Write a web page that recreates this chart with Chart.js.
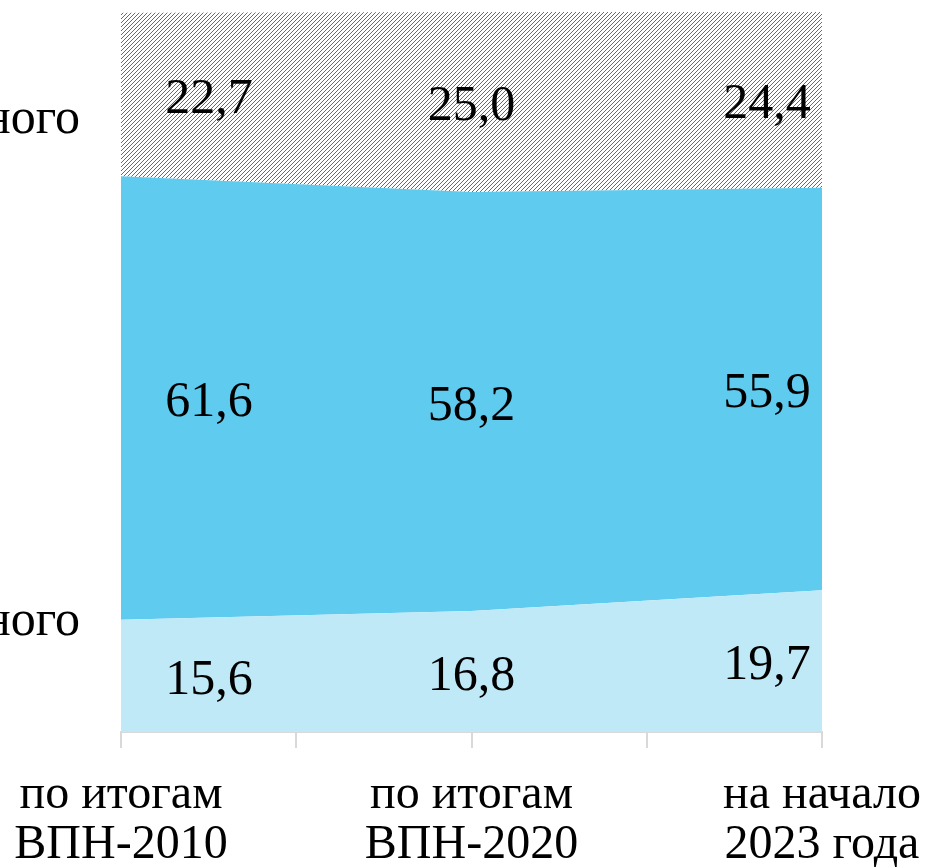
<!DOCTYPE html>
<html>
<head>
<meta charset="utf-8">
<script src="https://cdn.jsdelivr.net/npm/chart.js@4"></script>
<style>
  html, body { margin: 0; padding: 0; background: #fff; }
  #wrap { width: 927px; height: 867px; }
</style>
</head>
<body>
<div id="wrap"><canvas id="chart"></canvas></div>
<script>
// Категории по оси X
const categories = [['по итогам', 'ВПН-2010'], ['по итогам', 'ВПН-2020'], ['на начало', '2023 года']];

// Доли, % (снизу вверх)
const bottomValues = [15.6, 16.8, 19.7];
const middleValues = [61.6, 58.2, 55.9];
const topValues = [22.7, 25.0, 24.4];

// Обрезанные подписи слева
const sideLabels = ['ного', 'ного'];

// Штриховка для верхней области
function makeHatch() {
    const c = document.createElement('canvas');
    c.width = 4;
    c.height = 4;
    const g = c.getContext('2d');
    g.fillStyle = '#ffffff';
    g.fillRect(0, 0, 4, 4);
    g.strokeStyle = '#6a6a6a';
    g.lineWidth = 1;
    g.beginPath();
    g.moveTo(-1, 5);
    g.lineTo(5, -1);
    g.stroke();
    return g.createPattern(c, 'repeat');
}

const toPoints = arr => arr.map((v, i) => ({ x: i, y: v }));

// Подписи значений внутри областей
const valueLabels = {
    id: 'valueLabels',
    afterDatasetsDraw(chart) {
        const ctx = chart.ctx;
        const yScale = chart.scales.y;
        ctx.save();
        ctx.font = '50px "Liberation Serif"';
        ctx.fillStyle = '#000';
        ctx.textAlign = 'center';
        ctx.textBaseline = 'middle';
        chart.data.datasets.forEach((ds, di) => {
            const meta = chart.getDatasetMeta(di);
            meta.data.forEach((pt, i) => {
                const lower = di === 0 ? yScale.getPixelForValue(0) : chart.getDatasetMeta(di - 1).data[i].y;
                const y = (pt.y + lower) / 2 + 5;
                let x = pt.x;
                if (i === 0) x += 88;
                if (i === meta.data.length - 1) x -= 55;
                ctx.fillText(ds.data[i].y.toFixed(1).replace('.', ','), x, y);
            });
        });
        ctx.restore();
    }
};

// Обрезанный текст слева
const sideText = {
    id: 'sideText',
    afterDraw(chart) {
        const ctx = chart.ctx;
        ctx.save();
        ctx.font = '50px "Liberation Serif"';
        ctx.fillStyle = '#000';
        ctx.textAlign = 'right';
        ctx.textBaseline = 'alphabetic';
        ctx.fillText(sideLabels[0], 80, 133);
        ctx.fillText(sideLabels[1], 80, 635);
        ctx.restore();
    }
};

const ctx = document.getElementById('chart').getContext('2d');
new Chart(ctx, {
    type: 'line',
    data: {
        datasets: [
            { data: toPoints(bottomValues), backgroundColor: '#c0e9f8', fill: 'origin' },
            { data: toPoints(middleValues), backgroundColor: '#5ecbef', fill: '-1' },
            { data: toPoints(topValues), backgroundColor: makeHatch(), fill: '-1' }
        ]
    },
    options: {
        responsive: true,
        maintainAspectRatio: false,
        animation: false,
        elements: {
            line: { borderWidth: 0, tension: 0 },
            point: { radius: 0 }
        },
        layout: { padding: { left: 121, right: 105, top: 12, bottom: 0 } },
        plugins: {
            legend: { display: false },
            tooltip: { enabled: false }
        },
        scales: {
            x: {
                type: 'linear',
                min: 0,
                max: 2,
                afterFit: s => {
                    s.height = 135;
                    s.paddingLeft = 0;
                    s.paddingRight = 0;
                },
                grid: {
                    drawOnChartArea: false,
                    color: '#d9d9d9',
                    lineWidth: 2,
                    tickLength: 16
                },
                border: { color: '#d9d9d9', width: 2 },
                ticks: {
                    stepSize: 0.5,
                    autoSkip: false,
                    maxRotation: 0,
                    padding: 22,
                    color: '#000',
                    font: { family: 'Liberation Serif', size: 48, lineHeight: 1.05 },
                    callback: v => Number.isInteger(v) ? categories[v] : ''
                }
            },
            y: {
                display: false,
                stacked: true,
                min: 0,
                max: 100
            }
        }
    },
    plugins: [valueLabels, sideText]
});
</script>
</body>
</html>
